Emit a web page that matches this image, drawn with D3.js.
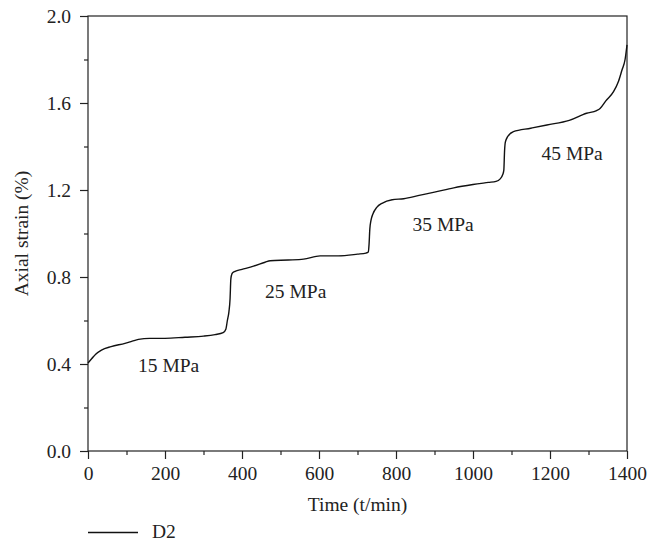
<!DOCTYPE html>
<html>
<head>
<meta charset="utf-8">
<script src="https://cdn.jsdelivr.net/npm/d3@7"></script>
<style>
  html, body { margin: 0; padding: 0; background: #fff; }
  svg text { font-family: "Liberation Serif", "Times New Roman", serif; fill: #222; }
</style>
</head>
<body>
<svg id="chart" width="664" height="554"></svg>
<script>
// Data (time in minutes, axial strain in %)
const timeValues = [0, 10, 20, 35, 60, 96, 115, 131, 160, 200, 252, 300, 330, 351, 358, 362, 366, 369, 371, 373, 376, 382, 400, 430, 460, 473, 520, 560, 603, 650, 700, 722, 728, 730, 732, 735, 740, 750, 765, 790, 820, 860, 900, 950, 1000, 1040, 1060, 1070, 1077, 1080, 1082, 1084, 1090, 1105, 1150, 1192, 1250, 1295, 1321, 1330, 1345, 1365, 1378, 1387, 1395, 1400];
const strainValues = [0.405, 0.425, 0.445, 0.464, 0.480, 0.495, 0.505, 0.513, 0.518, 0.518, 0.523, 0.528, 0.535, 0.544, 0.56, 0.60, 0.64, 0.70, 0.79, 0.81, 0.82, 0.826, 0.835, 0.85, 0.868, 0.875, 0.878, 0.882, 0.897, 0.897, 0.905, 0.91, 0.915, 0.95, 1.02, 1.06, 1.09, 1.12, 1.14, 1.155, 1.16, 1.175, 1.19, 1.21, 1.225, 1.235, 1.24, 1.25, 1.27, 1.29, 1.38, 1.42, 1.445, 1.468, 1.484, 1.499, 1.52, 1.553, 1.565, 1.575, 1.61, 1.652, 1.70, 1.752, 1.80, 1.867];
const seriesName = "D2";
const xTicks = [0, 200, 400, 600, 800, 1000, 1200, 1400];
const xMinorTicks = [100, 300, 500, 700, 900, 1100, 1300];
const yTicks = [0.0, 0.4, 0.8, 1.2, 1.6, 2.0];
const yMinorTicks = [0.2, 0.6, 1.0, 1.4, 1.8];
const stageLabels = ["15 MPa", "25 MPa", "35 MPa", "45 MPa"];
const stageLabelTimes = [130, 460, 843, 1178];
const stageLabelStrains = [0.362, 0.703, 1.011, 1.338];

const svg = d3.select("#chart");
const mLeft = 88, mRight = 627, mTop = 16, mBottom = 451;
const fs = 19.5;

const x = d3.scaleLinear().domain([0, 1400]).range([mLeft, mRight]);
const y = d3.scaleLinear().domain([0, 2.0]).range([mBottom, mTop]);

const axisColor = "#222";

// Minor ticks
const gxMinor = svg.append("g").attr("transform", `translate(0,${mBottom})`)
  .call(d3.axisBottom(x).tickValues(xMinorTicks).tickSize(4).tickFormat(""));
const gyMinor = svg.append("g").attr("transform", `translate(${mLeft},0)`)
  .call(d3.axisLeft(y).tickValues(yMinorTicks).tickSize(4).tickFormat(""));

// Major axes
const gx = svg.append("g").attr("transform", `translate(0,${mBottom})`)
  .call(d3.axisBottom(x).tickValues(xTicks).tickSize(8).tickPadding(7).tickFormat(d3.format("d")));
const gy = svg.append("g").attr("transform", `translate(${mLeft},0)`)
  .call(d3.axisLeft(y).tickValues(yTicks).tickSize(8).tickPadding(9).tickFormat(d3.format(".1f")));

[gxMinor, gyMinor, gx, gy].forEach(g => {
  g.select(".domain").remove();
  g.selectAll("line").attr("stroke", axisColor).attr("stroke-width", 1.2);
  g.selectAll("text").style("font-family", '"Liberation Serif", serif').style("font-size", fs + "px").attr("fill", "#222");
});

// Frame
svg.append("rect").attr("x", mLeft).attr("y", mTop).attr("width", mRight - mLeft).attr("height", mBottom - mTop)
  .attr("fill", "none").attr("stroke", axisColor).attr("stroke-width", 1.2);

// Curve
const data = timeValues.map((t, i) => ({ t, v: strainValues[i] }));
svg.append("path").datum(data)
  .attr("fill", "none").attr("stroke", "#111").attr("stroke-width", 1.4)
  .attr("d", d3.line().x(d => x(d.t)).y(d => y(d.v)).curve(d3.curveMonotoneX));

// Stage labels
stageLabels.forEach((s, i) => {
  svg.append("text").attr("x", x(stageLabelTimes[i])).attr("y", y(stageLabelStrains[i]))
    .style("font-size", fs + "px").text(s);
});

// Axis titles
svg.append("text").attr("x", (mLeft + mRight) / 2).attr("y", 511).attr("text-anchor", "middle")
  .style("font-size", fs + "px").text("Time (t/min)");
svg.append("text").attr("transform", `translate(28,${(mTop + mBottom) / 2}) rotate(-90)`)
  .attr("text-anchor", "middle").style("font-size", fs + "px").text("Axial strain (%)");

// Legend
svg.append("line").attr("x1", 88).attr("x2", 138).attr("y1", 532.5).attr("y2", 532.5)
  .attr("stroke", "#111").attr("stroke-width", 1.4);
svg.append("text").attr("x", 152).attr("y", 538).style("font-size", fs + "px").text(seriesName);
</script>
</body>
</html>
